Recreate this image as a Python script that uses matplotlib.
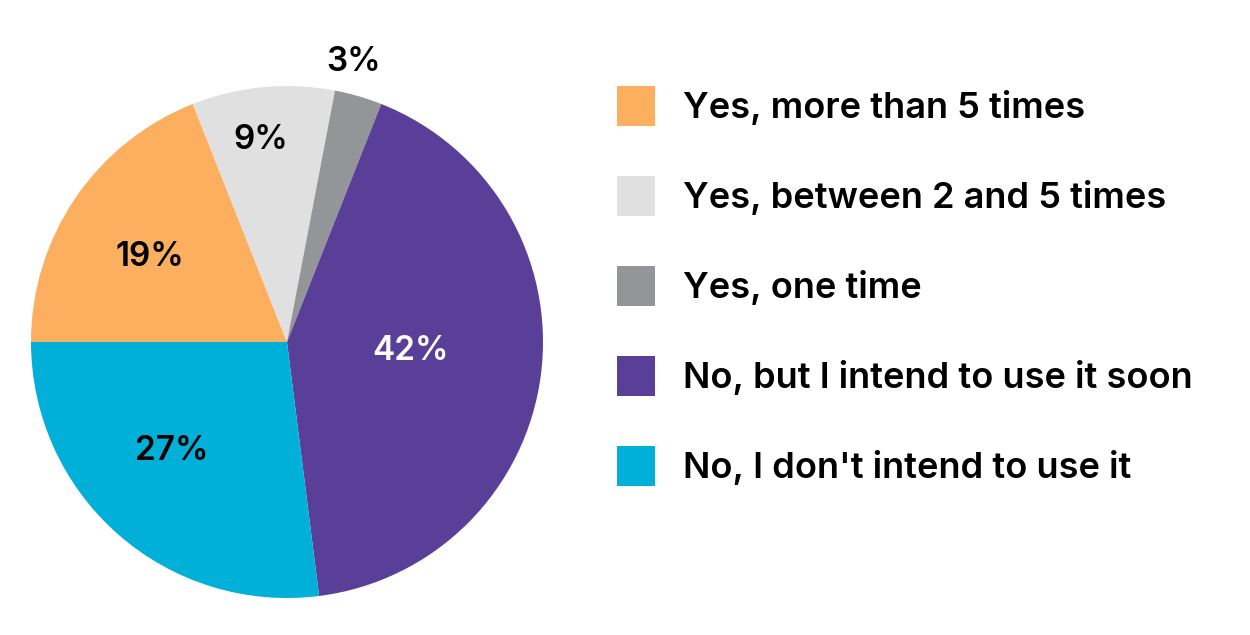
import matplotlib
matplotlib.use("Agg")
import matplotlib.pyplot as plt
import numpy as np

plt.rcParams['font.family'] = ['Inter', 'DejaVu Sans']

# data
categories = ["Yes, more than 5 times", "Yes, between 2 and 5 times", "Yes, one time",
              "No, but I intend to use it soon", "No, I don't intend to use it"]
shares = [19, 9, 3, 42, 27]
colors = ["#FBAF5F", "#E0E0E0", "#939598", "#5A3F99", "#00B0D8"]
label_colors = ["black", "black", "black", "white", "black"]
# label placement: radius (fraction of pie) and angle shift from wedge middle (deg)
label_radius = [0.612, 0.761, 1.091, 0.489, 0.643]
label_shift = [5.1, 2.3, 2.5, -1.1, -2.9]

fig = plt.figure(figsize=(12.5, 6.35), dpi=100)
W, H = 1250, 635
cx, cy, r = 287, 342, 256
ax = fig.add_axes([(cx - r) / W, (H - cy - r) / H, 2 * r / W, 2 * r / H])

wedges, _ = ax.pie(shares, colors=colors, startangle=180, counterclock=False,
                   radius=1, wedgeprops=dict(linewidth=0))
ax.set_xlim(-1, 1)
ax.set_ylim(-1, 1)
ax.set_aspect('equal')
ax.axis('off')

# percentage labels
for w, val, col, rr, sh in zip(wedges, shares, label_colors, label_radius, label_shift):
    ang = np.deg2rad((w.theta1 + w.theta2) / 2 + sh)
    ax.text(rr * np.cos(ang), rr * np.sin(ang), f"{val}%", ha='center', va='baseline',
            fontsize=24, fontweight='semibold', color=col, clip_on=False)

leg = fig.legend(wedges, categories, loc='upper left', bbox_to_anchor=(617 / W, 1 - 86 / H),
                 frameon=False, prop=dict(size=26, weight='semibold'),
                 handlelength=1.05, handleheight=1.34, handletextpad=0.78,
                 labelspacing=1.375, borderaxespad=0, borderpad=0)

fig.savefig("out.png", dpi=100)
